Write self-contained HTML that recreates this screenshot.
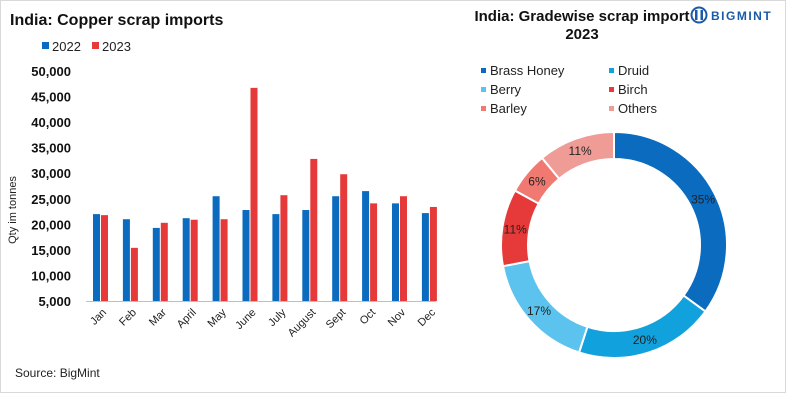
<!DOCTYPE html>
<html><head><meta charset="utf-8"><style>
body{margin:0;background:#fff;font-family:"Liberation Sans",Arial,sans-serif;}
svg text{font-family:"Liberation Sans",Arial,sans-serif;}
</style></head><body>
<svg id="c" width="800" height="400" viewBox="0 0 800 400" xmlns="http://www.w3.org/2000/svg">
<rect x="0.5" y="0.5" width="785" height="392" fill="#fff" stroke="#d9d9d9"/>
<text x="10" y="25" font-size="16" font-weight="bold" fill="#111">India: Copper scrap imports</text>
<rect x="42" y="42" width="7" height="7" fill="#0a6bbf"/>
<text x="52" y="51" font-size="13" fill="#222">2022</text>
<rect x="92" y="42" width="7" height="7" fill="#e63a3a"/>
<text x="102" y="51" font-size="13" fill="#222">2023</text>
<text transform="translate(16,210) rotate(-90)" text-anchor="middle" font-size="11" fill="#222">Qty im tonnes</text>
<g id="bars"></g>
<text x="15" y="377" font-size="12" fill="#222">Source:  BigMint</text>
<text x="582" y="21" text-anchor="middle" font-size="15" font-weight="bold" fill="#111">India: Gradewise scrap import</text>
<text x="582" y="39" text-anchor="middle" font-size="15" font-weight="bold" fill="#111">2023</text>
<g>
<circle cx="699" cy="15" r="7.5" fill="none" stroke="#1a5aa8" stroke-width="2"/>
<rect x="695" y="10" width="2.5" height="10" fill="#1a5aa8"/><rect x="700.5" y="10" width="2.5" height="10" fill="#1a5aa8"/>
<text x="711" y="20" font-size="12" font-weight="bold" fill="#1a5aa8" letter-spacing="1.5">BIGMINT</text>
</g>
<g id="legend2"></g>
<g id="donut"></g>
</svg>
<script>
const months=["Jan","Feb","Mar","April","May","June","July","August","Sept","Oct","Nov","Dec"];
const v2022=[22000,21000,19300,21200,25500,22800,22000,22800,25500,26500,24100,22200];
const v2023=[21800,15400,20300,20900,21000,46700,25700,32800,29800,24100,25500,23400];
const yTicks=[5000,10000,15000,20000,25000,30000,35000,40000,45000,50000];
const grades=["Brass Honey","Druid","Berry","Birch","Barley","Others"];
const shares=[35,20,17,11,6,11];
const gradeColors=["#0a6bbf","#11a1dd","#5bc3ee","#e63a3a","#f07a72","#f09c96"];
const NS="http://www.w3.org/2000/svg";
function mk(p,t,a){const e=document.createElementNS(NS,t);for(const k in a)e.setAttribute(k,a[k]);p.appendChild(e);return e;}
const x0=86,x1=436,yb=301,yt=71,vmin=5000,vmax=50000;
const y=v=>yb-(v-vmin)/(vmax-vmin)*(yb-yt);
const gw=29.9,c0=103;
const g=document.getElementById('bars');
yTicks.forEach(t=>{const e=mk(g,'text',{x:71,y:y(t)+5,'text-anchor':'end','font-size':13,'font-weight':'bold',fill:'#111'});e.textContent=t.toLocaleString('en-US');

});
const ax=mk(g,'line',{x1:x0,x2:x1,y1:yb+0.5,y2:yb+0.5,stroke:'#bfbfbf'});


months.forEach((m,i)=>{const cx=c0+gw*i;
const b1=mk(g,'rect',{x:cx-10,y:y(v2022[i]),width:7,height:yb-y(v2022[i]),fill:'#0a6bbf'});


const b2=mk(g,'rect',{x:cx-2,y:y(v2023[i]),width:7,height:yb-y(v2023[i]),fill:'#e63a3a'});


const t=mk(g,'text',{x:cx+4,y:yb+12,'text-anchor':'end','font-size':11,fill:'#222',transform:`rotate(-45 ${cx+4} ${yb+12})`});t.textContent=m;

});
const lg=document.getElementById('legend2');
grades.forEach((n,i)=>{const lx=481+(i%2)*128,ly=74+Math.floor(i/2)*19;
const s=mk(lg,'rect',{x:lx,y:ly-6,width:5,height:5,fill:gradeColors[i]});


const t=mk(lg,'text',{x:lx+9,y:ly+1,'font-size':13,fill:'#222'});t.textContent=n;

});
const dg=document.getElementById('donut');
const cx=614,cy=245,R=113,r=86;const tot=shares.reduce((a,b)=>a+b,0);let a0=0;
const pt=(a,rr)=>[cx+rr*Math.sin(a),cy-rr*Math.cos(a)];
shares.forEach((s,i)=>{const a1=a0+s/tot*2*Math.PI;const lg2=(a1-a0)>Math.PI?1:0;
const [p1x,p1y]=pt(a0,R),[p2x,p2y]=pt(a1,R),[p3x,p3y]=pt(a1,r),[p4x,p4y]=pt(a0,r);
const p=mk(dg,'path',{d:`M${p1x},${p1y}A${R},${R} 0 ${lg2} 1 ${p2x},${p2y}L${p3x},${p3y}A${r},${r} 0 ${lg2} 0 ${p4x},${p4y}Z`,fill:gradeColors[i],stroke:'#fff','stroke-width':2});


const [lx,ly]=pt((a0+a1)/2,100);
const t=mk(dg,'text',{x:lx,y:ly+4,'text-anchor':'middle','font-size':12,fill:'#222'});t.textContent=s+'%';


a0=a1;});
</script>
</body></html>
